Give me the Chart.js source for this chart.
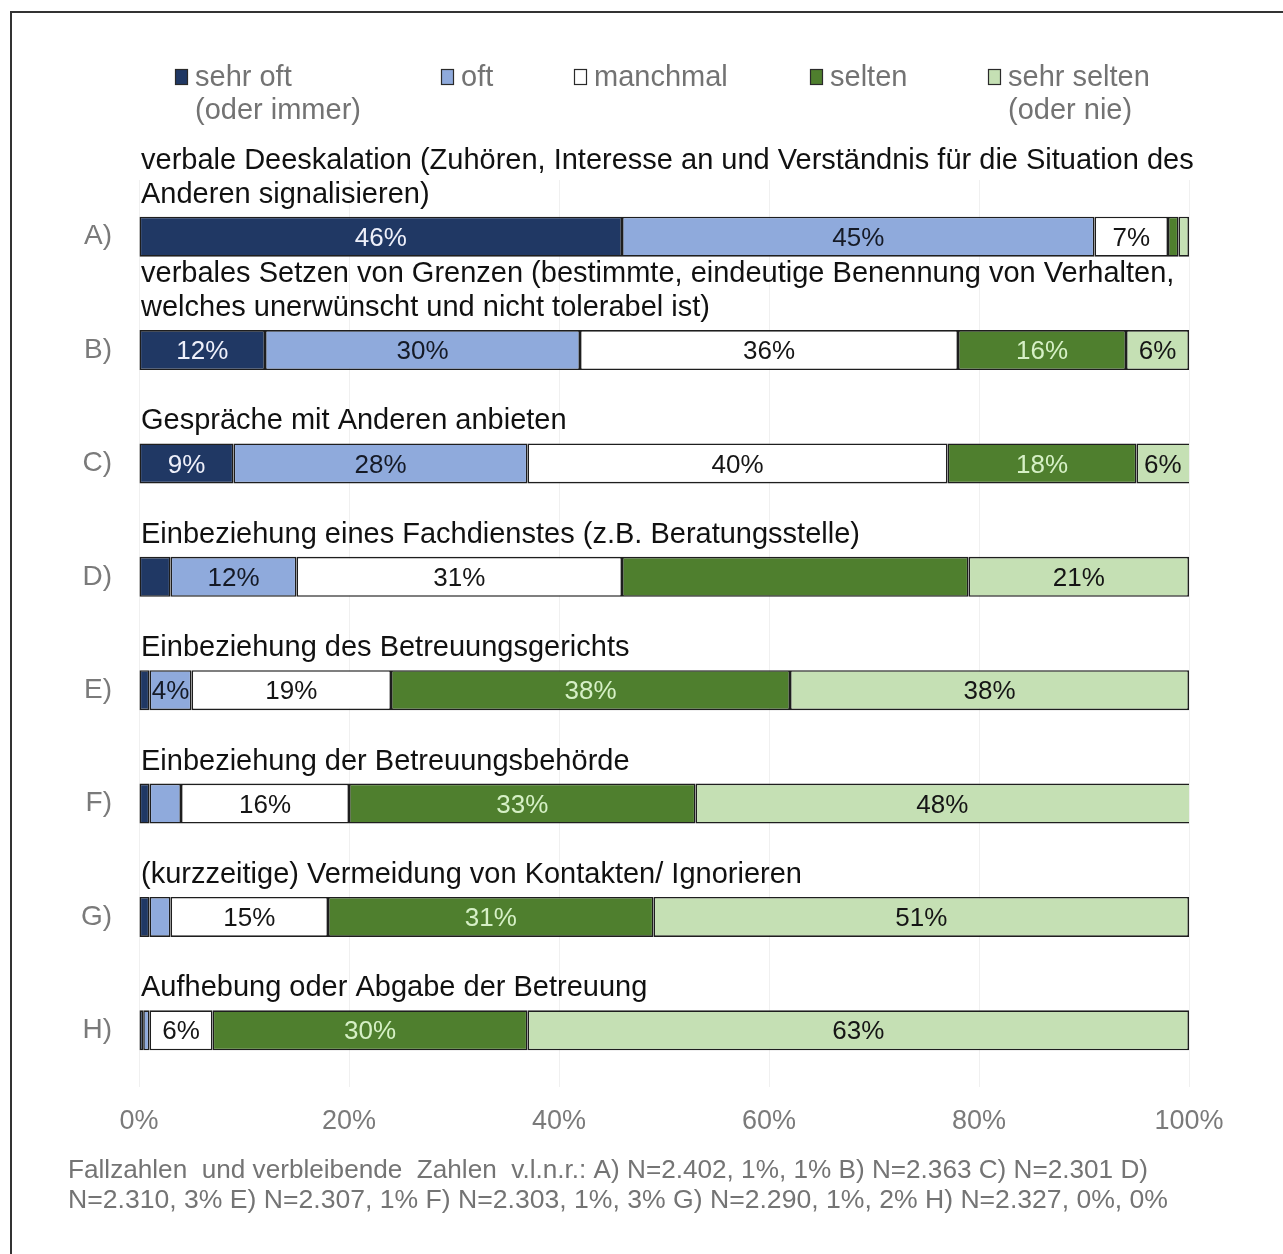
<!DOCTYPE html>
<html>
<head>
<meta charset="utf-8">
<script src="https://cdn.jsdelivr.net/npm/chart.js@4.4.1/dist/chart.umd.min.js"></script>
<style>
  html, body { margin: 0; padding: 0; background: #ffffff; }
  #wrap { position: relative; width: 1283px; height: 1254px; }
</style>
</head>
<body>
<div id="wrap"><canvas id="chart" width="1283" height="1254"></canvas></div>
<script>
// Row keys shown on the left of each bar
const rowKeys = ['A)', 'B)', 'C)', 'D)', 'E)', 'F)', 'G)', 'H)'];

// Measure described above each bar (one entry per text line)
const rowTitles = [
  ['verbale Deeskalation (Zuhören, Interesse an und Verständnis für die Situation des', 'Anderen signalisieren)'],
  ['verbales Setzen von Grenzen (bestimmte, eindeutige Benennung von Verhalten,', 'welches unerwünscht und nicht tolerabel ist)'],
  ['Gespräche mit Anderen anbieten'],
  ['Einbeziehung eines Fachdienstes (z.B. Beratungsstelle)'],
  ['Einbeziehung des Betreuungsgerichts'],
  ['Einbeziehung der Betreuungsbehörde'],
  ['(kurzzeitige) Vermeidung von Kontakten/ Ignorieren'],
  ['Aufhebung oder Abgabe der Betreuung']
];

// Answer categories (legend text, one entry per line)
const legendLabels = [
  ['sehr oft', '(oder immer)'],
  ['oft'],
  ['manchmal'],
  ['selten'],
  ['sehr selten', '(oder nie)']
];

// Shares in percent per answer category, rows A) to H)
const sehrOft    = [46, 12,  9,  3,  1,  1,  1, 0.4];
const oft        = [45, 30, 28, 12,  4,  3,  2, 0.6];
const manchmal   = [ 7, 36, 40, 31, 19, 16, 15,  6];
const selten     = [ 1, 16, 18, 33, 38, 33, 31, 30];
const sehrSelten = [ 1,  6,  6, 21, 38, 48, 51, 63];

// Segments whose share is not printed inside the bar
const unlabeledSegments = ['selten:D)'];

// Axis tick values (percent)
const xTickValues = [0, 20, 40, 60, 80, 100];

// Note below the axis
const footnoteLines = [
  'Fallzahlen  und verbleibende  Zahlen  v.l.n.r.: A) N=2.402, 1%, 1% B) N=2.363 C) N=2.301 D)',
  'N=2.310, 3% E) N=2.307, 1% F) N=2.303, 1%, 3% G) N=2.290, 1%, 2% H) N=2.327, 0%, 0%'
];

const seriesKeys = ['sehr oft', 'oft', 'manchmal', 'selten', 'sehr selten'];
const seriesValues = [sehrOft, oft, manchmal, selten, sehrSelten];
const fillColors  = ['#203864', '#8faadc', '#ffffff', '#4f7f2e', '#c5e0b4'];
const labelColors = ['#eef0fa', '#151a26', '#151515', '#d6f0c6', '#151515'];

const FONT = '"Liberation Sans", Arial, Helvetica, sans-serif';

// Frame, legend, row titles and footnote
const decorations = {
  id: 'decorations',
  beforeDraw(chart) {
    const ctx = chart.ctx;
    ctx.save();
    ctx.fillStyle = '#ffffff';
    ctx.fillRect(0, 0, chart.width, chart.height);
    ctx.strokeStyle = '#333333';
    ctx.lineWidth = 2;
    ctx.beginPath();
    ctx.moveTo(11, chart.height);
    ctx.lineTo(11, 12);
    ctx.lineTo(chart.width, 12);
    ctx.stroke();
    ctx.restore();
  },
  afterDraw(chart) {
    const ctx = chart.ctx;
    const yScale = chart.scales.y;
    ctx.save();

    // legend
    const boxX = [175, 441, 574, 810, 988];
    ctx.font = '29px ' + FONT;
    ctx.textBaseline = 'middle';
    ctx.textAlign = 'left';
    legendLabels.forEach((lines, i) => {
      const bx = boxX[i];
      ctx.fillStyle = fillColors[i];
      ctx.fillRect(bx, 69, 12, 15);
      ctx.strokeStyle = '#2a2a2a';
      ctx.lineWidth = 1.2;
      ctx.strokeRect(bx + 0.5, 69.5, 12, 15);
      ctx.fillStyle = '#737373';
      lines.forEach((t, k) => ctx.fillText(t, bx + 20, 78 + k * 33));
    });

    // row titles above the bars
    ctx.fillStyle = '#111111';
    ctx.font = '29px ' + FONT;
    rowTitles.forEach((lines, i) => {
      const barTop = yScale.getPixelForValue(i) - 20;
      const n = lines.length;
      lines.forEach((t, k) => {
        const y = barTop - 22 - (n - 1 - k) * 34;
        ctx.fillText(t, 141, y);
      });
    });

    // footnote
    ctx.fillStyle = '#747474';
    ctx.font = '25px ' + FONT;
    const noteWidths = [1080, 1100];
    footnoteLines.forEach((t, k) => {
      const w = ctx.measureText(t).width;
      ctx.save();
      ctx.translate(68, 1171 + k * 30);
      ctx.scale(noteWidths[k] / w, 1);
      ctx.fillText(t, 0, 0);
      ctx.restore();
    });
    ctx.restore();
  }
};

// Percentages printed in the middle of each segment
const segmentLabels = {
  id: 'segmentLabels',
  afterDatasetsDraw(chart) {
    const ctx = chart.ctx;
    const area = chart.chartArea;
    ctx.save();
    ctx.font = '26px ' + FONT;
    ctx.textAlign = 'center';
    ctx.textBaseline = 'middle';
    chart.data.datasets.forEach((ds, di) => {
      const meta = chart.getDatasetMeta(di);
      meta.data.forEach((el, ri) => {
        const v = ds.data[ri];
        if (v < 4) return;
        if (unlabeledSegments.includes(seriesKeys[di] + ':' + rowKeys[ri])) return;
        const left = Math.min(el.base, el.x);
        const right = Math.min(Math.max(el.base, el.x), area.right);
        ctx.fillStyle = labelColors[di];
        ctx.fillText(v + '%', (left + right) / 2, el.y + 2);
      });
    });
    ctx.restore();
  }
};

new Chart(document.getElementById('chart'), {
  type: 'bar',
  data: {
    labels: rowKeys,
    datasets: seriesKeys.map((name, i) => ({
      label: name,
      data: seriesValues[i],
      backgroundColor: fillColors[i],
      borderColor: '#1e1e1e',
      borderWidth: 1.6,
      borderSkipped: false,
      categoryPercentage: 1,
      barPercentage: 0.353
    }))
  },
  options: {
    indexAxis: 'y',
    responsive: false,
    animation: false,
    layout: { padding: { top: 180, right: 94, bottom: 0, left: 0 } },
    plugins: {
      legend: { display: false },
      title: { display: false },
      tooltip: { enabled: false }
    },
    scales: {
      x: {
        stacked: true,
        min: 0,
        max: 100,
        afterBuildTicks(scale) { scale.ticks = xTickValues.map(v => ({ value: v })); },
        afterFit(scale) { scale.height = 167; },
        ticks: {
          callback: v => v + '%',
          color: '#7a7a7a',
          font: { family: FONT, size: 27 },
          padding: 18,
          maxRotation: 0
        },
        grid: { color: 'rgba(0,0,0,0.06)', drawTicks: false },
        border: { display: false }
      },
      y: {
        stacked: true,
        afterFit(scale) { scale.width = 139; },
        ticks: {
          color: '#7a7a7a',
          font: { family: FONT, size: 28 },
          padding: 19
        },
        grid: { display: false },
        border: { display: false }
      }
    }
  },
  plugins: [decorations, segmentLabels]
});
</script>
</body>
</html>
